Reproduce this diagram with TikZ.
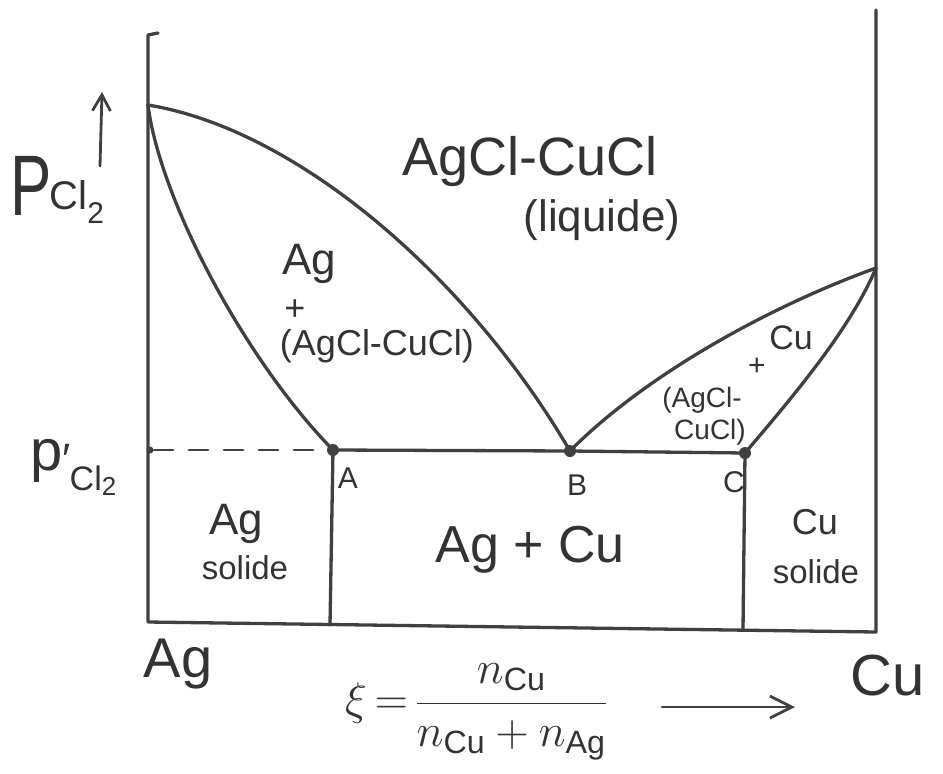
\RequirePackage{fix-cm}
\documentclass[tikz,border=0pt]{standalone}
\usepackage{graphicx}
\usepackage{fontspec}
\setmainfont{Liberation Sans}
\usetikzlibrary{arrows.meta}
\begin{document}
\begin{tikzpicture}[x=1pt,y=-1pt,
  ink/.style={draw=black!75, line width=3.3pt, line cap=round, line join=round},
  thin ink/.style={draw=black!75, line width=2.8pt, line cap=round},
  pt dot/.style={circle, fill=black!75, inner sep=0pt, minimum size=12pt},
  small dot/.style={circle, fill=black!75, inner sep=0pt, minimum size=7pt},
  lbl/.style={inner sep=0pt, text=black!80},
  fs/.style={font=\fontsize{#1}{#1}\selectfont}]
\useasboundingbox (0,0) rectangle (943,774);
% key points
\coordinate (T) at (148,105);
\coordinate (R) at (876,268);
\coordinate (Ltop) at (148,35);
\coordinate (Lhook) at (158,33);
\coordinate (Lbot) at (148,622);
\coordinate (Rtop) at (876,10);
\coordinate (Rbot) at (876,632);
\coordinate (Abot) at (330,625);
\coordinate (Cbot) at (743,630);
\node[pt dot] (A) at (333,450) {};
\node[pt dot] (B) at (570,451) {};
\node[pt dot] (C) at (745,453) {};
\node[small dot] (L0) at (150,450) {};
% axes and frame
\draw[ink] (Lhook) -- (Ltop) -- (Lbot) -- (Rbot) -- (Rtop);
\draw[ink] (A.center) -- (Abot);
\draw[ink] (C.center) -- (Cbot);
\draw[ink] (A.center) -- (B.center) -- (C.center);
\draw[thin ink, dash pattern=on 19pt off 16pt, dash phase=-4pt] (L0.center) -- (A.center);
% curves
\draw[ink] (T) .. controls (300,130) and (470,280) .. (B.center);
\draw[ink] (T) .. controls (160,200) and (245,360) .. (A.center);
\draw[ink] (B.center) .. controls (640,380) and (760,310) .. (R);
\draw[ink] (C.center) .. controls (790,400) and (850,330) .. (R);
% vertical axis label
\node[lbl, anchor=base west] (P) at (10,215) {\scalebox{0.72}[1]{\fontsize{86}{86}\selectfont P}\kern-2pt\raisebox{6pt}{\fontsize{40}{40}\selectfont Cl}\raisebox{-8pt}{\fontsize{30}{30}\selectfont 2}};
\coordinate (arrB) at (100,166);
\coordinate (arrT) at (102,92);
\draw[thin ink, -{Straight Barb[length=16pt,width=18pt,line width=2.8pt]}] (arrB) -- (arrT);
\node[lbl, anchor=base west] (pp) at (30,470) {\fontsize{58}{58}\selectfont p\raisebox{-4pt}{\fontsize{44}{44}\selectfont ′}\kern-1pt\raisebox{-20pt}{\fontsize{34}{34}\selectfont Cl}\raisebox{-25pt}{\fontsize{26}{26}\selectfont 2}};
% region labels
\node[lbl, fs=54] (liq1) at (530,162) {AgCl-CuCl};
\node[lbl, fs=44] (liq2) at (602,220) {(liquide)};
\node[lbl, fs=44] (lAg) at (309,264) {Ag};
\node[lbl, fs=36] (lplus) at (295,310) {+};
\node[lbl, fs=36] (lmix) at (377,346) {(AgCl-CuCl)};
\node[lbl, fs=34] (rCu) at (791,338) {Cu};
\node[lbl, fs=30] (rplus) at (757,367) {+};
\node[lbl, fs=28] (rmix1) at (702,400) {(AgCl-};
\node[lbl, fs=28] (rmix2) at (710,432) {CuCl)};
\node[lbl, fs=30] (lA) at (348,478) {A};
\node[lbl, fs=30] (lB) at (577,485) {B};
\node[lbl, fs=30] (lC) at (734,482) {C};
\node[lbl, fs=44] (sAg) at (236,524) {Ag};
\node[lbl, fs=33] (sAgs) at (245,568) {solide};
\node[lbl, fs=52] (mid) at (530,550) {Ag + Cu};
\node[lbl, fs=36] (sCu) at (815,522) {Cu};
\node[lbl, fs=33] (sCus) at (816,572) {solide};
\node[lbl, fs=56] (bAg) at (178,664) {Ag};
\node[lbl, fs=58] (bCu) at (888,676) {Cu};
% composition
\node[lbl, fs=46] (xi) at (476,712) {$\displaystyle\xi\mkern-2mu=\mkern-2mu\frac{n_{\mathrm{Cu}}}{n_{\mathrm{Cu}}+n_{\mathrm{Ag}}}$};
\coordinate (xa) at (662,707);
\coordinate (xb) at (795,707);
\draw[thin ink, -{Straight Barb[length=22pt,width=22pt,line width=2.8pt]}] (xa) -- (xb);
\end{tikzpicture}
\end{document}
